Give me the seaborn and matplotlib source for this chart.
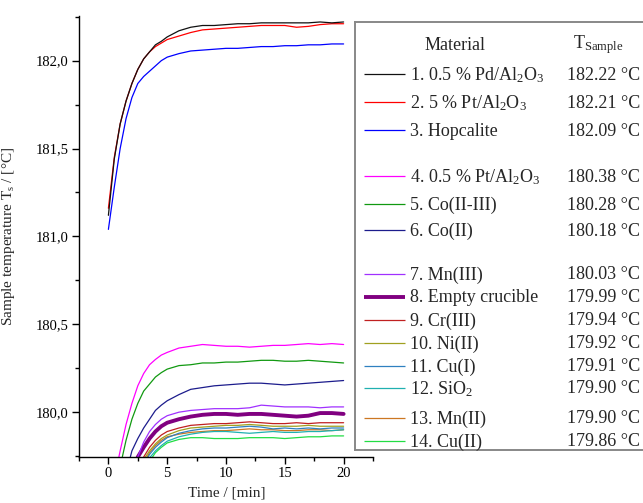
import numpy as np
import pandas as pd
import matplotlib
matplotlib.use("Agg")
import matplotlib.pyplot as plt
import matplotlib.font_manager as fm
from matplotlib.ticker import MultipleLocator, FuncFormatter
import seaborn as sns

# ---------------- data ----------------
time = [0, 0.5, 1, 1.5, 2, 2.5, 3, 3.5, 4, 4.5, 5, 6, 7, 8, 9, 10, 11, 12, 13, 14, 15, 16, 17, 18, 19, 20]

materials = ["1. 0.5 % Pd/Al$_2$O$_3$", "2. 5 % Pt/Al$_2$O$_3$", "3. Hopcalite",
             "4. 0.5 % Pt/Al$_2$O$_3$", "5. Co(II-III)", "6. Co(II)",
             "7. Mn(III)", "8. Empty crucible", "9. Cr(III)", "10. Ni(II)",
             "11. Cu(I)", "12. SiO$_2$", "13. Mn(II)", "14. Cu(II)"]
t_sample = ["182.22 °C", "182.21 °C", "182.09 °C", "180.38 °C", "180.28 °C", "180.18 °C",
            "180.03 °C", "179.99 °C", "179.94 °C", "179.92 °C", "179.91 °C", "179.90 °C",
            "179.90 °C", "179.86 °C"]

s1 = [181.12, 181.44, 181.64, 181.77, 181.87, 181.95, 182.01, 182.05, 182.09, 182.11, 182.135, 182.17, 182.19,
      182.20, 182.20, 182.205, 182.21, 182.21, 182.215, 182.215, 182.215, 182.215, 182.215, 182.22, 182.215, 182.22]
s2 = [181.16, 181.45, 181.64, 181.77, 181.87, 181.95, 182.01, 182.05, 182.08, 182.10, 182.12, 182.14, 182.16,
      182.175, 182.18, 182.185, 182.19, 182.195, 182.20, 182.20, 182.20, 182.19, 182.195, 182.205, 182.21, 182.21]
s3 = [181.04, 181.28, 181.50, 181.67, 181.79, 181.87, 181.91, 181.94, 181.97, 182.00, 182.02, 182.04, 182.055,
      182.06, 182.065, 182.07, 182.07, 182.075, 182.08, 182.08, 182.085, 182.085, 182.09, 182.09, 182.095, 182.095]
s4 = [179.45, 179.62, 179.78, 179.93, 180.05, 180.15, 180.22, 180.27, 180.30, 180.325, 180.34, 180.365, 180.375,
      180.385, 180.38, 180.375, 180.375, 180.37, 180.375, 180.38, 180.38, 180.385, 180.39, 180.385, 180.39, 180.385]
s5 = [179.35, 179.52, 179.69, 179.84, 179.96, 180.05, 180.12, 180.16, 180.20, 180.225, 180.245, 180.265, 180.27,
      180.28, 180.28, 180.285, 180.285, 180.29, 180.295, 180.295, 180.29, 180.29, 180.295, 180.29, 180.285, 180.28]
s6 = [179.10, 179.30, 179.48, 179.65, 179.78, 179.85, 179.91, 179.96, 180.01, 180.04, 180.065, 180.10, 180.13,
      180.14, 180.15, 180.155, 180.16, 180.165, 180.165, 180.16, 180.155, 180.16, 180.165, 180.17, 180.175, 180.18]
s7 = [179.00, 179.20, 179.38, 179.53, 179.65, 179.745, 179.83, 179.89, 179.93, 179.96, 179.98, 180.00, 180.01,
      180.015, 180.02, 180.02, 180.02, 180.025, 180.04, 180.035, 180.03, 180.03, 180.03, 180.025, 180.03, 180.03]
s8 = [178.95, 179.15, 179.33, 179.48, 179.62, 179.745, 179.80, 179.85, 179.89, 179.92, 179.94, 179.96, 179.975,
      179.985, 179.99, 179.99, 179.985, 179.99, 179.99, 179.985, 179.98, 179.975, 179.98, 179.995, 179.995, 179.99]
s9 = [178.90, 179.10, 179.27, 179.42, 179.55, 179.66, 179.745, 179.80, 179.84, 179.87, 179.89, 179.91, 179.925,
      179.93, 179.935, 179.935, 179.94, 179.945, 179.94, 179.935, 179.935, 179.94, 179.935, 179.94, 179.94, 179.94]
s10 = [178.88, 179.08, 179.25, 179.40, 179.53, 179.64, 179.73, 179.78, 179.82, 179.85, 179.87, 179.895, 179.91,
       179.915, 179.92, 179.925, 179.925, 179.93, 179.925, 179.92, 179.92, 179.92, 179.925, 179.92, 179.92, 179.92]
s11 = [178.85, 179.05, 179.22, 179.37, 179.50, 179.61, 179.70, 179.76, 179.80, 179.83, 179.855, 179.88, 179.895,
       179.905, 179.91, 179.91, 179.915, 179.92, 179.915, 179.905, 179.91, 179.905, 179.91, 179.905, 179.91, 179.91]
s12 = [178.84, 179.04, 179.21, 179.36, 179.49, 179.60, 179.69, 179.74, 179.78, 179.81, 179.835, 179.86, 179.875,
       179.885, 179.89, 179.89, 179.885, 179.88, 179.885, 179.89, 179.885, 179.885, 179.89, 179.89, 179.895, 179.90]
s13 = [178.86, 179.06, 179.23, 179.38, 179.51, 179.62, 179.71, 179.77, 179.81, 179.84, 179.86, 179.875, 179.885,
       179.89, 179.895, 179.895, 179.90, 179.905, 179.90, 179.90, 179.895, 179.895, 179.90, 179.90, 179.895, 179.90]
s14 = [178.80, 179.00, 179.17, 179.32, 179.45, 179.56, 179.66, 179.72, 179.77, 179.80, 179.825, 179.845, 179.855,
       179.855, 179.85, 179.85, 179.85, 179.855, 179.855, 179.855, 179.85, 179.855, 179.86, 179.86, 179.865, 179.865]

series = [s1, s2, s3, s4, s5, s6, s7, s8, s9, s10, s11, s12, s13, s14]
colors = ["#111111", "#ff0000", "#0000ff", "#ff00ff", "#119911", "#1c1c8c", "#a030ff",
          "#800080", "#c02020", "#a0a020", "#2f80c0", "#20b0b0", "#cc7722", "#22dd44"]
widths = [0.9, 0.9, 0.9, 0.9, 0.9, 0.9, 0.9, 2.8, 0.9, 0.9, 0.9, 0.9, 0.9, 0.9]

df = pd.concat([pd.DataFrame({"time": time, "temp": s, "material": m})
                for s, m in zip(series, materials)], ignore_index=True)

# ---------------- style ----------------
sns.set_style("ticks")
for f in fm.findSystemFonts():
    if "LiberationSerif" in f.replace(" ", ""):
        try:
            fm.fontManager.addfont(f)
        except Exception:
            pass
plt.rcParams["font.family"] = ["Liberation Serif", "DejaVu Serif"]
plt.rcParams["mathtext.fontset"] = "custom"
plt.rcParams["mathtext.rm"] = "Liberation Serif"
plt.rcParams["mathtext.it"] = "Liberation Serif:italic"

W, H = 643, 503
fig = plt.figure(figsize=(W / 100, H / 100), dpi=100)
ax = fig.add_axes([79 / W, 1 - 457 / H, (373 - 79) / W, (457 - 16) / H])

for i in range(len(materials) - 1, -1, -1):
    sub = df[df["material"] == materials[i]]
    sns.lineplot(data=sub, x="time", y="temp", color=colors[i], lw=widths[i],
                 ax=ax, legend=False, estimator=None)

ax.set_xlim(-2.5, 22.5)
ax.set_ylim(179.745, 182.254)
ax.xaxis.set_major_locator(MultipleLocator(5))
ax.xaxis.set_minor_locator(MultipleLocator(2.5))
ax.yaxis.set_major_locator(MultipleLocator(0.5))
ax.yaxis.set_minor_locator(MultipleLocator(0.25))
ax.yaxis.set_major_formatter(FuncFormatter(lambda v, p: f"{v:.1f}".replace(".", ",")))
ax.tick_params(axis="both", which="major", direction="out", length=5, width=1,
               labelsize=10.5, colors="black", pad=2.5)
ax.tick_params(axis="both", which="minor", direction="out", length=3, width=1, colors="black")
for sp in ["top", "right"]:
    ax.spines[sp].set_visible(False)
for sp in ["left", "bottom"]:
    ax.spines[sp].set_color("black")
    ax.spines[sp].set_linewidth(1.0)

ax.set_xlabel("Time / [min]", fontsize=11)
ax.set_ylabel(r"Sample temperature T$_\mathrm{s}$ / [°C]", fontsize=11)
ax.xaxis.set_label_coords(0.503, -0.066)
ax.yaxis.set_label_coords(-0.21, 0.5)

# ---------------- legend box ----------------
lax = fig.add_axes([355 / W, 1 - 450 / H, (660 - 355) / W, (450 - 22) / H])
lax.set_xlim(355, 660)
lax.set_ylim(450, 22)
lax.set_xticks([])
lax.set_yticks([])
for sp in lax.spines.values():
    sp.set_color("#888888")
    sp.set_linewidth(1.4)
lax.patch.set_facecolor("white")

row_y = [74, 102, 130, 176, 204, 230, 274, 297, 320, 343, 366, 388, 418, 441]
lax.text(455, 45, "Material", fontsize=13, ha="center", va="center")
lax.text(573, 45, r"T$_{\mathrm{Sample}}$", fontsize=13, ha="left", va="center")
for i, m in enumerate(materials):
    y = row_y[i]
    lax.plot([364, 405], [y, y], color=colors[i], lw=widths[i], solid_capstyle="butt")
    lax.text(410, y + 1, m, fontsize=13, ha="left", va="center")
    lax.text(567, y + 1, t_sample[i], fontsize=13, ha="left", va="center")

fig.savefig("out.png", dpi=100)
